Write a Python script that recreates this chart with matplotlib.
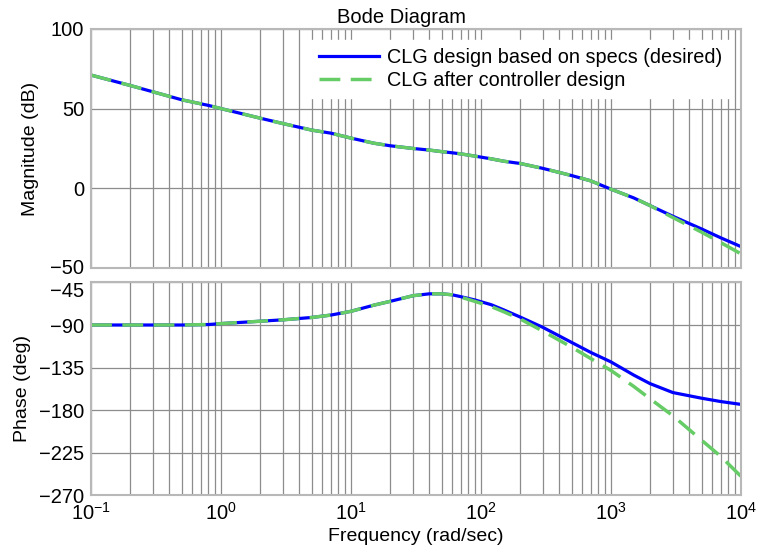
import matplotlib
matplotlib.use('Agg')
import matplotlib.pyplot as plt
import matplotlib.transforms as mtransforms
from matplotlib.ticker import LogLocator, NullFormatter

plt.rcParams['font.family'] = ['Liberation Sans', 'DejaVu Sans']
plt.rcParams['mathtext.fontset'] = 'custom'
plt.rcParams['mathtext.rm'] = 'Liberation Sans'
plt.rcParams['mathtext.it'] = 'Liberation Sans:italic'

# frequency points (rad/sec)
freq = [0.1, 0.2, 0.3, 0.5, 0.8, 1, 2, 3, 5, 7, 10, 15, 20, 30, 40, 50, 60, 70,
        90, 120, 150, 200, 300, 500, 700, 1000, 1500, 2000, 3000, 5000, 7000, 10000]

mag_desired = [71, 64.5, 60.5, 55.5, 52, 50, 44, 40.6, 36.5, 34.6, 31.5, 28.3, 26.7,
               25, 24, 23, 22.3, 21.6, 20.2, 18.5, 17, 15.6, 12.5, 8, 4.7, -0.5,
               -6, -10.8, -17.5, -25.5, -31, -36.5]
mag_actual = [71, 64.5, 60.5, 55.5, 52, 50, 44, 40.6, 36.5, 34.6, 31.5, 28.3, 26.7,
              25, 24, 23, 22.3, 21.6, 20.2, 18.5, 17, 15.6, 12.5, 8, 4.7, -0.5,
              -6, -10.8, -18.3, -27.5, -34, -41]

phase_desired = [-90, -90, -90, -90, -89.5, -88.5, -86, -84.5, -82, -79.5, -75.5, -69,
                 -65, -59, -57, -57, -58, -60, -63.5, -68.5, -74, -81.5, -92.5,
                 -108.5, -119, -129, -143, -152, -161.5, -167.5, -171, -174]
phase_actual = [-90, -90, -90, -90, -89.5, -88.5, -86, -84.5, -82, -79.5, -75.5, -69,
                -65, -59, -57, -57, -58, -60.5, -65, -70.5, -76, -83.5, -96.5,
                -113.5, -125.5, -138, -155, -168, -186, -212, -229, -250]

mag_ticks = [-50, 0, 50, 100]
phase_ticks = [-270, -225, -180, -135, -90, -45]

blue = '#0000ff'
green = '#66cc66'

fig = plt.figure(figsize=(7.59, 5.55), dpi=100)
ax1 = fig.add_axes([0.12, 0.517, 0.856, 0.431])
ax2 = fig.add_axes([0.12, 0.108, 0.856, 0.383])

for ax in (ax1, ax2):
    ax.set_xscale('log')
    ax.set_xlim(0.1, 1e4)
    ax.xaxis.set_major_locator(LogLocator(base=10, numticks=10))
    ax.xaxis.set_minor_locator(LogLocator(base=10, subs=range(2, 10), numticks=100))
    ax.xaxis.set_minor_formatter(NullFormatter())
    ax.grid(True, which='both', color='#8c8c8c', linewidth=0.9)
    ax.set_axisbelow(True)
    ax.tick_params(which='both', length=0, labelsize=14.5, pad=5)
    for s in ax.spines.values():
        s.set_color('#b8b8b8')
        s.set_linewidth(1.5)

ax1.plot(freq, mag_desired, color=blue, lw=2.3, label='CLG design based on specs (desired)')
ax1.plot(freq, mag_actual, color=green, lw=2.5, ls=(0, (6, 3)), label='CLG after controller design')
ax1.set_ylim(-50, 100)
ax1.set_yticks(mag_ticks)
ax1.set_yticklabels(['\u221250', '0', '50', '100'])
ax1.tick_params(axis='x', labelbottom=False)
ax1.set_ylabel('Magnitude (dB)', fontsize=14, labelpad=8)
ax1.set_title('Bode Diagram', fontsize=14.5, pad=4, x=0.478)
leg = ax1.legend(loc='upper right', fontsize=14.3, frameon=True, fancybox=False,
                 facecolor='white', edgecolor='white', framealpha=1,
                 handlelength=3.0, handletextpad=0.4, borderaxespad=0.55,
                 labelspacing=0.2, borderpad=0.4)

ax2.plot(freq, phase_desired, color=blue, lw=2.3)
ax2.plot(freq, phase_actual, color=green, lw=2.5, ls=(0, (6, 3)))
ax2.set_ylim(-270, -45)
ax2.set_yticks(phase_ticks)
ax2.set_yticklabels(['\u2212270', '\u2212225', '\u2212180', '\u2212135', '\u221290', '\u221245'])
ax2.set_ylabel('Phase (deg)', fontsize=14, labelpad=6)
ax2.set_xlabel('Frequency (rad/sec)', fontsize=14, labelpad=3)

# nudge the top phase label down and the bottom magnitude label up, like the original
lab_top = ax2.get_yticklabels()[-1]
lab_top.set_transform(lab_top.get_transform() + mtransforms.ScaledTranslation(0, -5 / 72, fig.dpi_scale_trans))
lab_bot = ax1.get_yticklabels()[0]
lab_bot.set_transform(lab_bot.get_transform() + mtransforms.ScaledTranslation(0, 1 / 72, fig.dpi_scale_trans))

fig.savefig('out.png', dpi=100)
